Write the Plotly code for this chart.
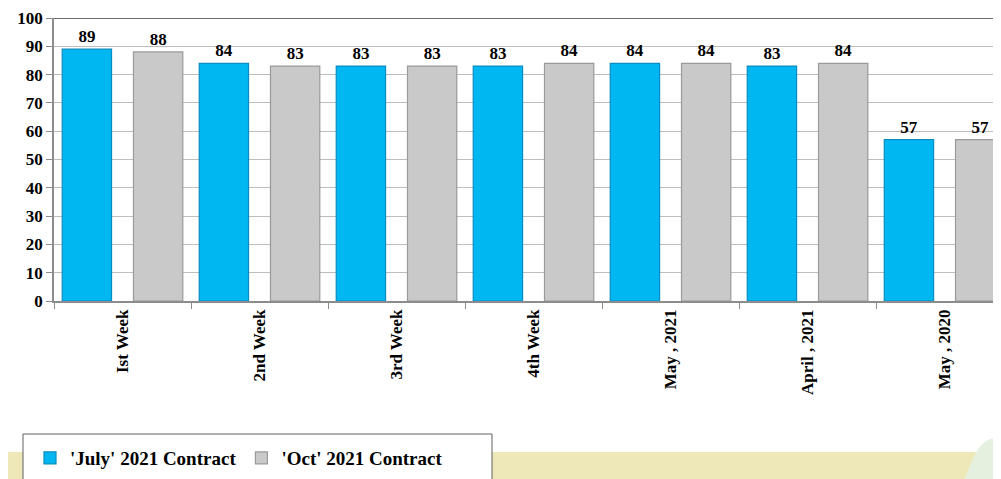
import plotly.graph_objects as go

categories = ["Ist Week", "2nd Week", "3rd Week", "4th Week", "May , 2021", "April , 2021", "May , 2020"]
july_2021 = [89, 84, 83, 83, 84, 83, 57]
oct_2021 = [88, 83, 83, 84, 84, 84, 57]
series_names = ["'July' 2021 Contract", "'Oct' 2021 Contract"]
y_ticks = [0, 10, 20, 30, 40, 50, 60, 70, 80, 90, 100]

FONT = "Liberation Serif, Times New Roman, serif"

PLOT_TOP = 18  # page pixel of the 100 line
PLOT_BOTTOM = 301


# page pixel -> paper helpers (plot area on page: x 54..1001, y PLOT_TOP..PLOT_BOTTOM)
def px(x):
    return (x - 54) / 947


def py(y):
    return (PLOT_BOTTOM - y) / (PLOT_BOTTOM - PLOT_TOP)


BAR_W = 0.36

fig = go.Figure()
fig.add_trace(go.Bar(
    x=categories, y=july_2021, name=series_names[0],
    width=BAR_W, offset=-0.44,
    marker=dict(color="#00B7F1", line=dict(color="#0A8CC0", width=1.2)),
    text=[str(v) for v in july_2021], textposition="outside",
    textfont=dict(family=FONT, size=17, color="black", weight="bold"),
    cliponaxis=False,
))
fig.add_trace(go.Bar(
    x=categories, y=oct_2021, name=series_names[1],
    width=BAR_W, offset=0.08,
    marker=dict(color="#C9C9C9", line=dict(color="#9A9A9A", width=1.2)),
    text=[str(v) for v in oct_2021], textposition="outside",
    textfont=dict(family=FONT, size=17, color="black", weight="bold"),
    cliponaxis=False,
))

green_path = "M {x0},{y0} C {x1},{y1} {x2},{y2} {x3},{y3} L {x4},{y4} L {x5},{y5} Z".format(
    x0=px(964), y0=py(480), x1=px(975), y1=py(455), x2=px(978), y2=py(438),
    x3=px(1001), y3=py(437), x4=px(1001), y4=py(480), x5=px(964), y5=py(480))

# page has an 8px body margin: figure spans page x 8..1001, y 8..479
fig.update_layout(
    width=993, height=471,
    margin=dict(l=46, r=0, t=PLOT_TOP - 8, b=479 - PLOT_BOTTOM),
    paper_bgcolor="white", plot_bgcolor="white",
    barmode="overlay",
    font=dict(family=FONT, size=16, color="black"),
    showlegend=True,
    legend=dict(
        orientation="h", x=px(30), y=py(458), xanchor="left", yanchor="middle",
        bgcolor="rgba(0,0,0,0)", borderwidth=0,
        font=dict(family=FONT, size=19, color="black", weight="bold"),
        itemwidth=30,
    ),
    shapes=[
        dict(type="rect", xref="paper", yref="paper", x0=-0.1, x1=1.1,
             y0=py(490), y1=py(452),
             fillcolor="#EEE8B9", line=dict(width=0), layer="below"),
        dict(type="path", xref="paper", yref="paper", path=green_path,
             fillcolor="#E6F0DE", line=dict(width=0), layer="below"),
        dict(type="rect", xref="paper", yref="paper", x0=px(23), x1=px(492),
             y0=py(490), y1=py(434),
             fillcolor="white", line=dict(color="#606060", width=1), layer="below"),
        dict(type="line", xref="paper", yref="y", x0=0, x1=1, y0=100, y1=100,
             line=dict(color="#3A3A3A", width=1.5)),
    ],
)

fig.update_xaxes(
    range=[-0.5, 6.412], tickangle=-90, automargin=False,
    tickfont=dict(family=FONT, size=17, color="black", weight="bold"),
    showline=True, linecolor="#8C8C8C", linewidth=1.5, mirror=False,
    ticks="outside", tickson="boundaries", ticklen=6, tickcolor="#8C8C8C",
    showgrid=False, fixedrange=True,
)
fig.update_yaxes(
    range=[0, 100], tickvals=y_ticks, automargin=False,
    ticklabeloverflow="allow",
    tickfont=dict(family=FONT, size=17, color="black", weight="bold"),
    showline=True, linecolor="#8C8C8C", linewidth=1.5,
    ticks="outside", ticklen=6, tickcolor="#8C8C8C",
    showgrid=True, gridcolor="#BDBDBD", gridwidth=1,
    zeroline=False, fixedrange=True,
)

fig.write_html("out.html")
